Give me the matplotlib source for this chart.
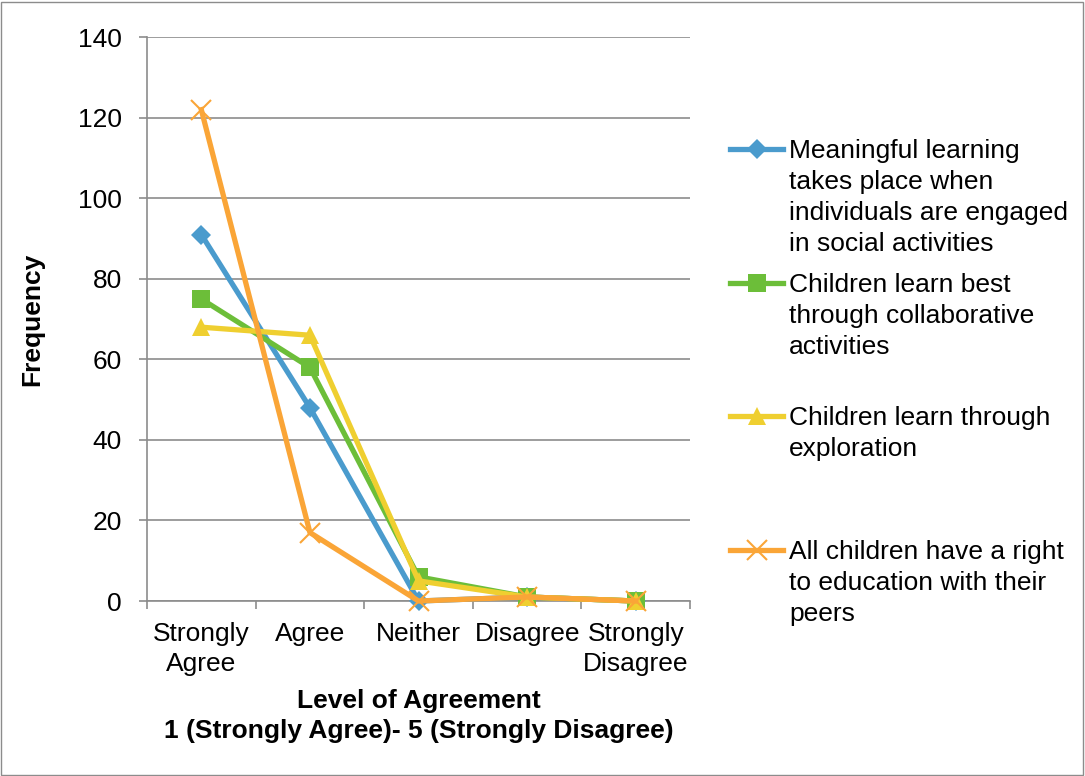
import matplotlib
matplotlib.use("Agg")
import matplotlib.pyplot as plt
from matplotlib.lines import Line2D
from matplotlib.patches import Rectangle

plt.rcParams['font.family'] = ['Liberation Sans', 'DejaVu Sans']

categories = ["Strongly\nAgree", "Agree", "Neither", "Disagree", "Strongly\nDisagree"]
meaningful = [91, 48, 0, 1, 0]
collaborative = [75, 58, 6, 1, 0]
exploration = [68, 66, 5, 1, 0]
right_to_edu = [122, 17, 0, 1, 0]

labels = ["Meaningful learning\ntakes place when\nindividuals are engaged\nin social activities",
          "Children learn best\nthrough collaborative\nactivities",
          "Children learn through\nexploration",
          "All children have a right\nto education with their\npeers"]
colors = ["#4A9BCD", "#6CBE39", "#EFCF30", "#FAA537"]
markers = ["D", "s", "^", "x"]
msizes = [10, 13, 13, 14]

series = [meaningful, collaborative, exploration, right_to_edu]
FS = 19

fig = plt.figure(figsize=(10.85, 7.76), dpi=100)
ax = fig.add_axes([0.1355, 0.2255, 0.5005, 0.7265])

x = range(len(categories))
for vals, c, m, ms in zip(series, colors, markers, msizes):
    ax.plot(x, vals, color=c, lw=3.8, marker=m, markersize=ms,
            markeredgewidth=1.5 if m == "x" else 0, markeredgecolor=c,
            solid_joinstyle='round', clip_on=False, zorder=3)

ax.set_xlim(-0.5, 4.5)
ax.set_ylim(0, 140)
ax.set_yticks(range(0, 141, 20))
ax.yaxis.grid(True, color="#8c8c8c", lw=1.2)
ax.set_axisbelow(True)
ax.set_xticks(list(x))
ax.set_xticklabels(categories, fontsize=FS, linespacing=1.3)
ax.set_xticks([i - 0.5 for i in range(len(categories) + 1)], minor=True)
ax.tick_params(axis='x', which='major', length=0, pad=15)
ax.tick_params(axis='x', which='minor', length=6, color="#8c8c8c", width=1.2)
ax.tick_params(axis='y', length=6, color="#8c8c8c", width=1.2, labelsize=FS, pad=12)
for s in ["top", "right"]:
    ax.spines[s].set_visible(False)
for s in ["left", "bottom"]:
    ax.spines[s].set_color("#8c8c8c")
    ax.spines[s].set_linewidth(1.2)

ax.set_ylabel("Frequency", fontsize=FS, fontweight="bold")
ax.yaxis.set_label_coords(-0.19, 0.5)
ax.set_xlabel("Level of Agreement\n1 (Strongly Agree)- 5 (Strongly Disagree)",
              fontsize=FS, fontweight="bold", labelpad=10, linespacing=1.3)

# legend drawn by hand so markers line up with the first text line
entry_y = [149, 283, 416, 550]
for lab, c, m, ms, yp in zip(labels, colors, markers, msizes, entry_y):
    yf = 1 - yp / 776
    fig.add_artist(Line2D([730 / 1085, 783 / 1085], [yf, yf], color=c, lw=3.8,
                          transform=fig.transFigure))
    fig.add_artist(Line2D([757 / 1085], [yf], color=c, marker=m, markersize=ms,
                          markeredgewidth=1.5 if m == "x" else 0, markeredgecolor=c,
                          transform=fig.transFigure))
    fig.text(789 / 1085, yf + 10 / 776, lab, fontsize=FS, va="top", ha="left",
             linespacing=1.37)

fig.add_artist(Rectangle((0.001, 0.001), 0.997, 0.997, transform=fig.transFigure,
                         fill=False, edgecolor="#8c8c8c", lw=1))

fig.savefig("out.png", dpi=100)
